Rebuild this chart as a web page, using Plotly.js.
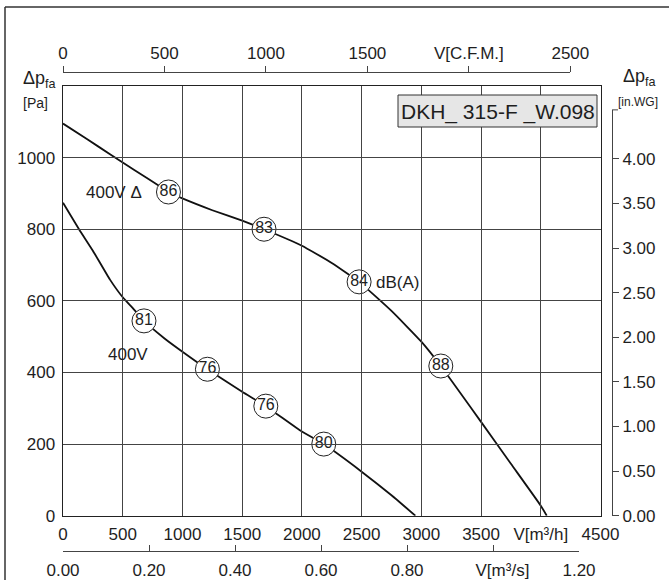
<!DOCTYPE html>
<html>
<head>
<meta charset="utf-8">
<script src="https://cdn.plot.ly/plotly-3.0.1.min.js"></script>
<style>html,body{margin:0;padding:0;background:#fff;}#chart{width:669px;height:580px;}</style>
</head>
<body>
<div id="chart"></div>
<script>
// ---- data ----
// curve "400V Δ": flow [m3/h] and pressure [Pa]
const flowDelta = [0, 200, 400, 600, 800, 883, 1000, 1250, 1500, 1683, 2000, 2250, 2479, 2750, 3000, 3163, 3500, 3750, 4000, 4050];
const paDelta   = [1095, 1052, 1008, 965, 922, 904, 886, 853, 824, 800, 754, 706, 653, 572, 486, 418, 262, 145, 28, 0];
// curve "400V"
const flowY = [0, 134, 250, 392, 500, 573, 678, 850, 1000, 1209, 1500, 1698, 2000, 2183, 2500, 2750, 2950];
const paY   = [874, 800, 740, 660, 610, 584, 544, 495, 458, 409, 346, 306, 235, 200, 123, 57, 0];
// dB(A) points
const dbFlowDelta = [883, 1683, 2479, 3163];
const dbPaDelta   = [904, 800, 653, 418];
const dbTextDelta = ['86', '83', '84', '88'];
const dbFlowY = [678, 1209, 1698, 2183];
const dbPaY   = [544, 409, 306, 200];
const dbTextY = ['81', '76', '76', '80'];
// axis ticks
const m3hTicks = [0, 500, 1000, 1500, 2000, 2500, 3000, 3500, 4000, 4500];
const m3hText  = ['0', '500', '1000', '1500', '2000', '2500', '3000', '3500', 'V[m³/h]', '4500'];
const paTicks  = [0, 200, 400, 600, 800, 1000];
const cfmTicks = [0, 500, 1000, 1500, 2000, 2500];
const cfmText  = ['0', '500', '1000', '1500', 'V[C.F.M.]', '2500'];
const m3sTicks = [0, 0.2, 0.4, 0.6, 0.8, 1.0, 1.2];
const m3sText  = ['0.00', '0.20', '0.40', '0.60', '0.80', '\u00a0\u00a0\u00a0\u00a0V[m³/s]', '1.20'];
const inwgTicks = [0, 0.5, 1.0, 1.5, 2.0, 2.5, 3.0, 3.5, 4.0];
const inwgText  = ['0.00', '0.50', '1.00', '1.50', '2.00', '2.50', '3.00', '3.50', '4.00'];
const titleText = 'DKH_ 315-F _W.098';

// ---- geometry ----
const L = 63, R = 612, T = 72, B = 551;
const W = R - L, H = B - T;
const fx = p => (p - L) / W;
const fy = p => (B - p) / H;
const plotLeft = 63, plotRight = 600.5, plotTop = 86, plotBottom = 515.7;
const xMax = 4500, yMax = 1200;
const pxPerM3h = (plotRight - plotLeft) / xMax;
const pxPerPa = (plotBottom - plotTop) / yMax;
const CFM_PER_M3H = 0.588578;
const PA_PER_INWG = 249.089;
const cfmMax = 2500, m3sMax = 1.2, inwgMax = 4.55;
const inwgTopPx = plotBottom - inwgMax * PA_PER_INWG * pxPerPa;

const FONT = 'Liberation Sans, Arial, Helvetica, sans-serif';
const INK = '#1e1e1e';

const traces = [
  {x: flowDelta, y: paDelta, mode: 'lines', line: {color: '#111', width: 1.8, shape: 'spline', smoothing: 0.4}, hoverinfo: 'skip', showlegend: false},
  {x: flowY, y: paY, mode: 'lines', line: {color: '#111', width: 1.8, shape: 'spline', smoothing: 0.4}, hoverinfo: 'skip', showlegend: false},
  {x: dbFlowDelta.concat(dbFlowY), y: dbPaDelta.concat(dbPaY), text: dbTextDelta.concat(dbTextY),
   mode: 'markers+text', textposition: 'middle center',
   textfont: {family: FONT, size: 16, color: INK},
   marker: {symbol: 'circle', size: 24, color: '#fff', line: {color: '#222', width: 1}},
   hoverinfo: 'skip', showlegend: false},
  // carriers for the secondary unit axes
  {x: [0], y: [0], xaxis: 'x2', yaxis: 'y', mode: 'markers', marker: {opacity: 0}, hoverinfo: 'skip', showlegend: false},
  {x: [0], y: [0], xaxis: 'x3', yaxis: 'y', mode: 'markers', marker: {opacity: 0}, hoverinfo: 'skip', showlegend: false},
  {x: [0], y: [0], xaxis: 'x', yaxis: 'y2', mode: 'markers', marker: {opacity: 0}, hoverinfo: 'skip', showlegend: false}
];

const tickFont = {family: FONT, size: 17, color: INK};
const layout = {
  width: 669, height: 580, autosize: false,
  margin: {l: L, r: 669 - R, t: T, b: 580 - B, pad: 0},
  paper_bgcolor: '#fff', plot_bgcolor: 'rgba(0,0,0,0)',
  showlegend: false,
  xaxis: {
    domain: [fx(plotLeft), fx(plotRight)], range: [0, xMax], anchor: 'y',
    tickmode: 'array', tickvals: m3hTicks, ticktext: m3hText, ticks: '', ticklen: 0,
    ticklabelstandoff: 2,
    showgrid: true, gridcolor: '#444', gridwidth: 1, zeroline: false,
    showline: true, mirror: true, linecolor: '#222', linewidth: 1.5,
    tickfont: tickFont, fixedrange: true
  },
  yaxis: {
    domain: [fy(plotBottom), fy(plotTop)], range: [0, yMax], anchor: 'x',
    tickmode: 'array', tickvals: paTicks, ticks: '', ticklen: 0,
    ticklabelstandoff: 3,
    showgrid: true, gridcolor: '#444', gridwidth: 1, zeroline: false,
    showline: true, mirror: true, linecolor: '#222', linewidth: 1.5,
    tickfont: tickFont, fixedrange: true
  },
  xaxis2: {
    domain: [fx(plotLeft), fx(plotLeft + cfmMax / CFM_PER_M3H * pxPerM3h)], range: [0, cfmMax],
    anchor: 'free', position: 1, side: 'top',
    tickmode: 'array', tickvals: cfmTicks, ticktext: cfmText,
    ticks: 'outside', ticklen: 6, tickwidth: 1, tickcolor: '#444',
    showgrid: false, zeroline: false, showline: true, linecolor: '#444', linewidth: 1,
    tickfont: tickFont, fixedrange: true
  },
  xaxis3: {
    domain: [fx(plotLeft), fx(plotLeft + m3sMax * 3600 * pxPerM3h)], range: [0, m3sMax],
    anchor: 'free', position: 0, side: 'bottom',
    tickmode: 'array', tickvals: m3sTicks, ticktext: m3sText,
    ticks: 'inside', ticklen: 6, tickwidth: 1, tickcolor: '#444',
    ticklabelstandoff: 4,
    showgrid: false, zeroline: false, showline: true, linecolor: '#444', linewidth: 1,
    tickfont: tickFont, fixedrange: true
  },
  yaxis2: {
    domain: [fy(plotBottom), fy(inwgTopPx)], range: [0, inwgMax],
    anchor: 'free', position: 1, side: 'right',
    tickmode: 'array', tickvals: inwgTicks, ticktext: inwgText,
    ticks: 'outside', ticklen: 6, tickwidth: 1, tickcolor: '#444',
    showgrid: false, zeroline: false, showline: true, linecolor: '#444', linewidth: 1,
    tickfont: tickFont, fixedrange: true
  },
  shapes: [
    // outer frame
    {type: 'line', xref: 'paper', yref: 'paper', x0: fx(5), x1: fx(5), y0: fy(7), y1: fy(582), line: {color: '#333', width: 1.5}},
    {type: 'line', xref: 'paper', yref: 'paper', x0: fx(5), x1: fx(671), y0: fy(7), y1: fy(7), line: {color: '#333', width: 1.5}},
    // title box
    {type: 'rect', xref: 'paper', yref: 'paper', x0: fx(398), x1: fx(597), y0: fy(127), y1: fy(95),
     fillcolor: '#e6e6e6', line: {color: '#333', width: 1}, layer: 'above'},
    // cap tick at top of in.WG axis
    {type: 'line', xref: 'paper', yref: 'paper', x0: 1, x1: fx(R + 6), y0: fy(inwgTopPx), y1: fy(inwgTopPx), line: {color: '#444', width: 1}}
  ],
  annotations: [
    {xref: 'paper', yref: 'paper', x: fx(497.5), y: fy(111.5), text: titleText, showarrow: false,
     xanchor: 'center', yanchor: 'middle', font: {family: FONT, size: 21, color: INK}},
    {xref: 'x', yref: 'y', x: (84 - plotLeft) / pxPerM3h, y: 902, text: '400V Δ', showarrow: false,
     xanchor: 'left', yanchor: 'middle', font: {family: FONT, size: 17, color: INK}},
    {xref: 'x', yref: 'y', x: (106 - plotLeft) / pxPerM3h, y: 449, text: '400V', showarrow: false,
     xanchor: 'left', yanchor: 'middle', font: {family: FONT, size: 17, color: INK}},
    {xref: 'x', yref: 'y', x: (374 - plotLeft) / pxPerM3h, y: 651, text: 'dB(A)', showarrow: false,
     xanchor: 'left', yanchor: 'middle', font: {family: FONT, size: 17, color: INK}},
    {xref: 'paper', yref: 'paper', x: fx(21), y: fy(80), text: 'Δp<sub>fa</sub>', showarrow: false,
     xanchor: 'left', yanchor: 'middle', font: {family: FONT, size: 18, color: INK}},
    {xref: 'paper', yref: 'paper', x: fx(21), y: fy(103), text: '[Pa]', showarrow: false,
     xanchor: 'left', yanchor: 'middle', font: {family: FONT, size: 14, color: INK}},
    {xref: 'paper', yref: 'paper', x: fx(621), y: fy(77), text: 'Δp<sub>fa</sub>', showarrow: false,
     xanchor: 'left', yanchor: 'middle', font: {family: FONT, size: 18, color: INK}},
    {xref: 'paper', yref: 'paper', x: fx(616), y: fy(102), text: '[in.WG]', showarrow: false,
     xanchor: 'left', yanchor: 'middle', font: {family: FONT, size: 12, color: INK}}
  ]
};

Plotly.newPlot('chart', traces, layout, {staticPlot: true, displayModeBar: false});
</script>
</body>
</html>
